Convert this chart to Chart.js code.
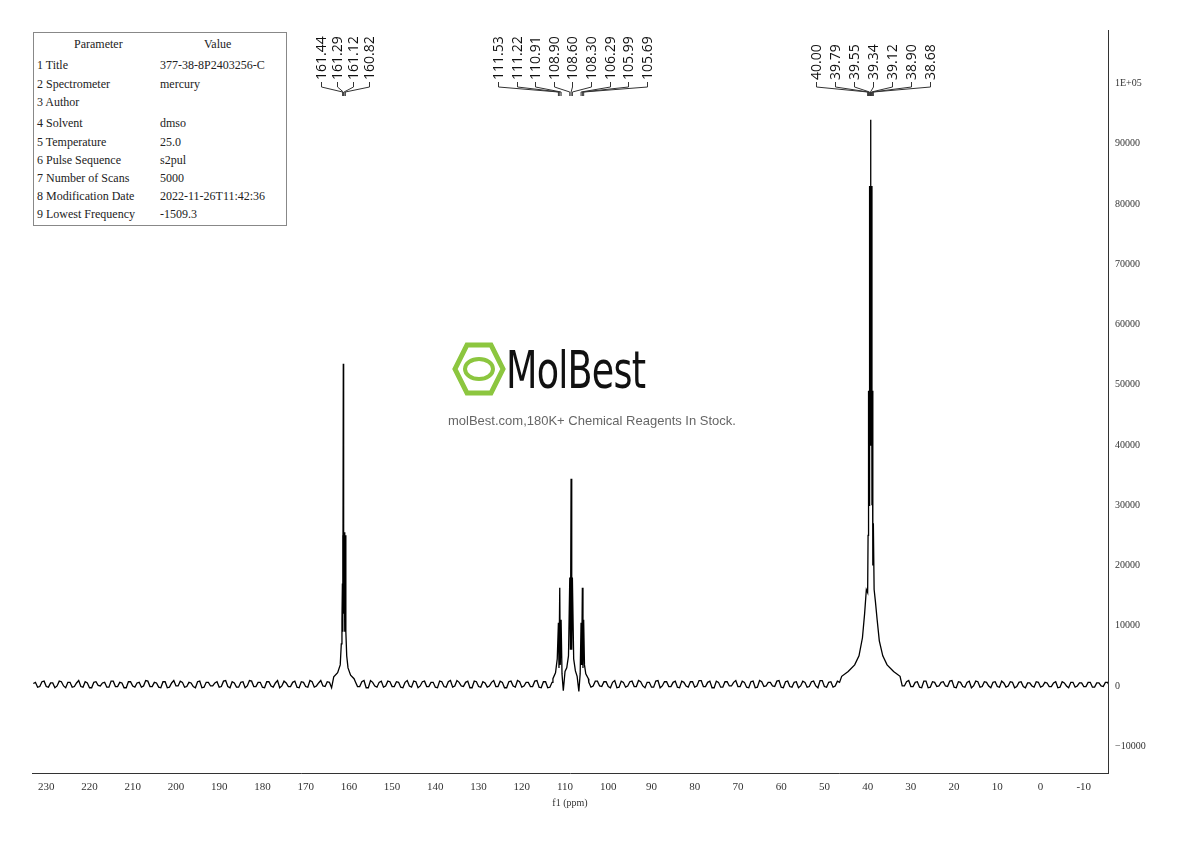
<!DOCTYPE html>
<html><head><meta charset="utf-8">
<script src="https://cdn.jsdelivr.net/npm/chart.js@4.4.0/dist/chart.umd.min.js"></script>
<style>
body{margin:0;background:#fff;width:1190px;height:841px;overflow:hidden;position:relative}
#wrap{position:absolute;left:0;top:0;width:1190px;height:841px}
#params{position:absolute;left:33px;top:32px;width:252px;height:192px;border:1px solid #888;font:12px "Liberation Serif",serif;color:#222;background:#fff}
#params div{position:absolute;white-space:nowrap}
#logo{position:absolute;left:452px;top:340px;font:52px "DejaVu Sans Condensed","Liberation Sans Narrow",sans-serif;color:#111;white-space:nowrap}
#logo span{display:inline-block;transform:scaleX(0.78);transform-origin:left center;letter-spacing:-1px}
#sub{position:absolute;left:448px;top:413px;font:13px "Liberation Sans",sans-serif;color:#666}
</style></head>
<body>
<div id="wrap"><canvas id="c" width="1190" height="841"></canvas></div>
<div id="params"></div>
<div id="logo"><svg width="54" height="54" viewBox="0 0 54 54" style="vertical-align:-8px"><polygon points="15,3 39,3 51,27 39,51 15,51 3,27" fill="none" stroke="#8cc63f" stroke-width="5"/><ellipse cx="27" cy="27" rx="14" ry="10" fill="none" stroke="#8cc63f" stroke-width="4"/></svg><span>MolBest</span></div>
<div id="sub">molBest.com,180K+ Chemical Reagents In Stock.</div>
<script>
// parameter table
const paramNames = ["Parameter","1 Title","2 Spectrometer","3 Author","4 Solvent","5 Temperature","6 Pulse Sequence","7 Number of Scans","8 Modification Date","9 Lowest Frequency"];
const paramValues = ["Value","377-38-8P2403256-C","mercury","","dmso","25.0","s2pul","5000","2022-11-26T11:42:36","-1509.3"];
const paramTops = [4,25,44,62,83,102,120,138,156,174];

// peak picking labels (ppm)
const groupA = [161.44,161.29,161.12,160.82];
const groupB = [111.53,111.22,110.91,108.90,108.60,108.30,106.29,105.99,105.69];
const groupC = [40.00,39.79,39.55,39.34,39.12,38.90,38.68];
const labelXA = [321,337,353,369];
const labelXB = [498,517,535,554,572,591,610,628,647];
const labelXC = [816,835,854,873,892,911,930];

// baseline noise, 1 ppm step from 233 down to -15 (intensity x100)
const baseStart = 233;
const baseNoise = [4,-2,7,-1,5,-3,8,0,6,-2,5,-1,7,-3,6,1,5,-2,8,-1,6,-3,7,0,5,-2,9,-1,6,-2,7,-3,5,0,8,-2,6,-1,7,-3,6,0,5,-2,8,-1,7,-2,6,-3,
 9,-1,6,-2,7,0,5,-3,8,-1,6,-2,7,-1,9,-2,5,0,7,-3,6,-1,8,-2,6,-1,7,-3,9,0,6,-2,8,-1,
 7,-2,6,0,8,-3,7,-1,6,-2,8,-1,7,-2,9,0,6,-3,8,-1,7,-2,6,-1,8,-3,7,0,9,-2,6,-1,8,-2,
 7,-3,6,0,8,-2,7,-1,9,-3,6,-2,8,0,7,-1,6,-3,8,-2,7,-1,9,0,6,-2,8,-3,7,-1,6,-2,8,0,
 7,-2,9,-1,6,-3,8,-2,7,0,6,-1,8,-2,7,-3,9,-1,6,0,8,-2,7,-1,6,-3,8,-2,7,0,9,-1,6,-2,
 8,-3,7,-1,6,0,8,-2,7,-1,9,-3,6,-2,8,0,7,-1,6,-2,8,-3,7,-1,6,0,8,-2,7,-1,6,-3,8,-2,
 7,0,6,-1,8,-2,7,-3,6,-1,5,0,7,-2,6,-1,5,-3,7,0,6,-2,5,-1,6,-2,5,0,6,-1,5,-2];
// extra noise samples at the half-ppm positions (233.5 ... -14.5)
const baseNoiseHalf = [-3,6,-1,8,-2,5,0,7,-3,6,-1,9,-2,5,-3,7,0,6,-2,8,-1,5,-3,7,-2,6,0,8,-1,5,-3,7,-2,9,0,6,-1,5,-3,8,-2,6,0,7,-1,9,-3,5,-2,7,
 0,8,-1,6,-3,7,-2,9,0,5,-1,8,-3,6,-2,7,0,9,-1,6,-3,8,-2,5,0,7,-1,9,-3,6,-2,8,0,7,
 -1,6,-3,9,-2,7,0,8,-1,6,-3,7,-2,9,0,6,-1,8,-3,7,-2,5,0,9,-1,6,-3,8,-2,7,0,6,-1,9,
 -3,7,-2,8,0,6,-1,9,-3,7,-2,6,0,8,-1,7,-3,9,-2,6,0,8,-1,7,-3,6,-2,9,0,7,-1,8,-3,6,
 -2,7,0,9,-1,8,-3,6,-2,7,0,9,-1,6,-3,8,-2,7,0,6,-1,9,-3,8,-2,7,0,6,-1,8,-3,9,-2,7,
 0,6,-1,8,-3,7,-2,9,0,6,-1,8,-3,7,-2,6,0,9,-1,7,-3,8,-2,6,0,7,-1,9,-3,6,-2,8,0,7,
 -1,6,-3,7,-2,5,0,6,-1,7,-3,5,-2,6,0,5,-1,7,-2,5,-3,6,0,5,-1,6,-2,5,-1,6];

// peak shapes [ppm, intensity]
const peakA = [[163.5,1500],[162.6,2200],[162.0,3500],[161.75,7000],[161.6,11000],[161.5,17000],[161.44,25000],[161.36,9000],[161.29,53500],[161.21,12000],[161.12,25500],[161.0,9000],[160.9,12000],[160.82,25000],[160.7,9000],[160.5,5000],[160.2,3000],[159.6,1800],[158.8,1200]];
const peakB = [[112.8,1200],[112.2,2200],[111.8,4500],[111.53,10500],[111.4,3000],[111.22,16300],[111.1,3500],[110.91,11000],[110.7,2000],[110.4,-800],[110.0,2400],[109.6,3000],[109.2,5000],[108.90,18000],[108.75,6000],[108.60,34400],[108.45,6000],[108.30,18000],[108.0,4500],[107.6,2500],[107.2,1600],[106.8,-900],[106.5,2000],[106.29,10500],[106.15,3500],[105.99,16300],[105.85,3000],[105.69,11000],[105.5,3500],[105.2,2000],[104.6,1200]];
const peakC = [[46.0,1600],[44.5,2400],[43.0,3500],[42.0,5000],[41.2,8000],[40.7,12000],[40.3,16000],[40.00,15500],[39.9,25000],[39.79,49000],[39.67,30000],[39.55,83000],[39.45,40000],[39.34,94000],[39.23,40000],[39.12,83000],[39.0,30000],[38.90,49000],[38.8,20000],[38.68,27000],[38.5,16000],[38.2,14000],[37.8,11000],[37.3,7500],[36.5,5000],[35.5,3500],[34.0,2400],[32.5,1600]];

const peaks = [peakA, peakB, peakC];
const inPeak = x => peaks.some(p => x <= p[0][0] && x >= p[p.length-1][0]);
let pts = [];
baseNoise.forEach((v,i) => { const x = baseStart - i; if (!inPeak(x)) pts.push({x:x, y:v*100}); });
baseNoiseHalf.forEach((v,i) => { const x = baseStart + 0.5 - i; if (!inPeak(x) && x < 233.3) pts.push({x:x, y:v*100}); });
peaks.forEach(p => p.forEach(d => pts.push({x:d[0], y:d[1]})));
pts.sort((a,b) => b.x - a.x);

const pt = document.getElementById("params");
paramNames.forEach((n,i) => {
  const a = document.createElement("div"); a.textContent = n;
  a.style.top = paramTops[i]+"px"; a.style.left = i==0 ? "40px" : "3px"; pt.appendChild(a);
  const b = document.createElement("div"); b.textContent = paramValues[i];
  b.style.top = paramTops[i]+"px"; b.style.left = i==0 ? "170px" : "126px"; pt.appendChild(b);
});

const peakLabels = {
  id: "peakLabels",
  afterDraw(chart) {
    const ctx = chart.ctx, xs = chart.scales.x;
    ctx.save();
    ctx.strokeStyle = "#333"; ctx.lineWidth = 1; ctx.fillStyle = "#111";
    ctx.font = "14px 'Open Sans', sans-serif";
    [[groupA,labelXA],[groupB,labelXB],[groupC,labelXC]].forEach(([vals, lx]) => {
      vals.forEach((v,i) => {
        const px = xs.getPixelForValue(v);
        ctx.beginPath();
        ctx.moveTo(lx[i]+0.5, 82); ctx.lineTo(lx[i]+0.5, 87);
        ctx.lineTo(px, 92); ctx.lineTo(px, 96);
        ctx.stroke();
        ctx.save();
        ctx.translate(lx[i]+5, 80);
        ctx.rotate(-Math.PI/2);
        ctx.textAlign = "left";
        ctx.fillText(v.toFixed(2), 0, 0);
        ctx.restore();
      });
    });
    ctx.restore();
  }
};

new Chart(document.getElementById("c"), {
  type: "line",
  data: { datasets: [{ data: pts, borderColor: "#000", borderWidth: 1.3, pointRadius: 0, tension: 0 }] },
  options: {
    responsive: false, animation: false,
    layout: { padding: { left: 32, top: 30, right: 0, bottom: 32 } },
    plugins: { legend: { display: false }, tooltip: { enabled: false } },
    scales: {
      x: {
        type: "linear", reverse: true, min: -15.6, max: 233.3,
        afterBuildTicks(s) { const t=[]; for (let v=230; v>=-15; v-=5) t.push({value:v}); s.ticks = t; },
        afterFit(s) { s.height = 36; },
        grid: { display: false, drawTicks: true, tickLength: 6, tickColor: "#333" },
        border: { color: "#333" },
        ticks: { autoSkip: false, maxRotation: 0, color: "#333", padding: 2, font: { family: "Liberation Serif", size: 11 },
          callback: v => v % 10 === 0 ? v : "" },
        title: { display: true, text: "f1 (ppm)", color: "#333", padding: 0, font: { family: "Liberation Serif", size: 10 } }
      },
      y: {
        position: "right", min: -14450, max: 108900,
        afterBuildTicks(s) { const t=[]; for (let v=-15000; v<=105000; v+=5000) if (v>=-14450) t.push({value:v}); s.ticks = t; },
        afterFit(s) { s.width = 82; },
        grid: { display: false, drawTicks: true, tickLength: 5, tickColor: "#333" },
        border: { color: "#333" },
        ticks: { autoSkip: false, color: "#333", padding: 2, font: { family: "Liberation Serif", size: 10 },
          callback: v => v % 10000 !== 0 ? "" : (v === 100000 ? "1E+05" : (v < 0 ? "\u2212" + (-v) : v)) }
      }
    }
  },
  plugins: [peakLabels]
});
</script>
</body></html>
